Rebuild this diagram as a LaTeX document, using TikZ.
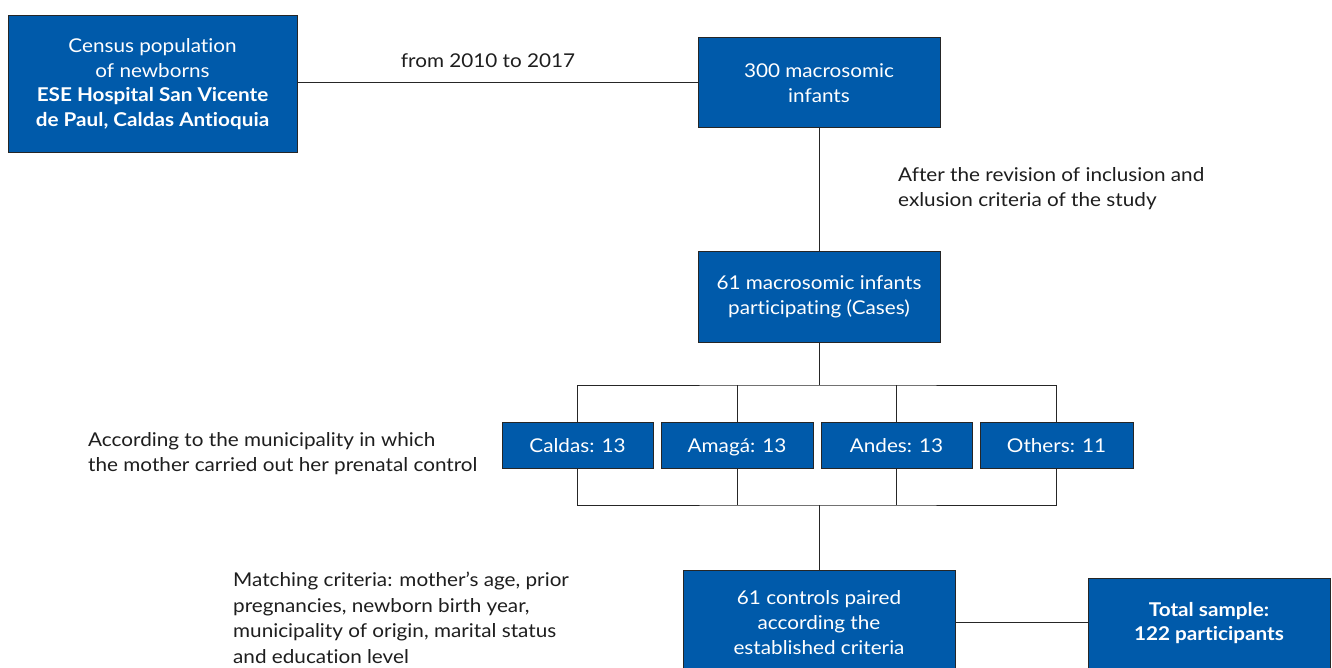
\documentclass[tikz,border=0pt]{standalone}
\usepackage{fontspec}
\setmainfont[Ligatures=NoCommon, FakeStretch=1.09]{Lato}
\definecolor{boxblue}{RGB}{0,90,170}
\definecolor{txt}{RGB}{30,30,30}
\begin{document}
\begin{tikzpicture}[x=1pt,y=-1pt,
  bluebox/.style={draw=black!85, line width=1pt, fill=boxblue, text=white, align=center, inner sep=0pt, font=\fontsize{19}{24.5}\selectfont},
  note/.style={text=txt, align=left, inner sep=0pt, font=\fontsize{19}{25.5}\selectfont},
  conn/.style={draw=black!85, line width=1pt}]
\useasboundingbox (0,0) rectangle (1332,668);
\clip (0,0) rectangle (1332,668);
\fill[white] (0,0) rectangle (1332,668);
% boxes
\node[bluebox, minimum width=289, minimum height=137] (census) at (152.5,84)
  {Census population\\of newborns\\\textbf{ESE Hospital San Vicente}\\\textbf{de Paul, Caldas Antioquia}};
\node[bluebox, minimum width=242, minimum height=90] (macro) at (819,83) {300 macrosomic\\infants};
\node[bluebox, minimum width=242, minimum height=90] (cases) at (819,297) {61 macrosomic infants\\participating (Cases)};
\tikzset{small/.style={bluebox, minimum height=46, text height=16pt, text depth=1pt}}
\node[small, minimum width=151] (caldas) at (577.5,445) {Caldas: 13};
\node[small, minimum width=152] (amaga) at (737,445) {Amagá: 13};
\node[small, minimum width=151] (andes) at (896.5,445) {Andes: 13};
\node[small, minimum width=153] (others) at (1056.5,445) {Others: 11};
\node[bluebox, minimum width=272, minimum height=110] (controls) at (819,625) {};
\node[text=white, align=center, inner sep=0pt, font=\fontsize{19}{25}\selectfont] (controlstxt) at (819,623) {61 controls paired\\according the\\established criteria};
\node[bluebox, minimum width=242, minimum height=100] (total) at (1209,628) {};
\node[text=white, align=center, inner sep=0pt, font=\bfseries\fontsize{19}{24}\selectfont] (totaltxt) at (1209,623) {Total sample:\\122 participants};
% notes
\node[note, anchor=base] (years) at (488,68) {from 2010 to 2017};
\node[note, anchor=north west] (revision) at (898,167) {After the revision of inclusion and\\exlusion criteria of the study};
\node[note, anchor=north west] (muni) at (88,432) {According to the municipality in which\\the mother carried out her prenatal control};
\node[note, anchor=north west] (match) at (233,572) {Matching criteria: mother’s age, prior\\pregnancies, newborn birth year,\\municipality of origin, marital status\\and education level};
% connectors
\draw[conn] (census.east |- 0,83) -- (macro.west |- 0,83);
\draw[conn] (macro.south) -- (cases.north);
\coordinate (top) at (819,385);
\coordinate (bot) at (819,505);
\draw[conn] (cases.south) -- (top);
\draw[conn] (caldas.north) |- (top) -| (others.north);
\draw[conn] (amaga.north) -- (amaga.north |- top);
\draw[conn] (andes.north) -- (andes.north |- top);
\draw[conn] (caldas.south) |- (bot) -| (others.south);
\draw[conn] (amaga.south) -- (amaga.south |- bot);
\draw[conn] (andes.south) -- (andes.south |- bot);
\draw[conn] (bot) -- (controls.north);
\draw[conn] (controls.east |- 0,622) -- (total.west |- 0,622);
\end{tikzpicture}
\end{document}
